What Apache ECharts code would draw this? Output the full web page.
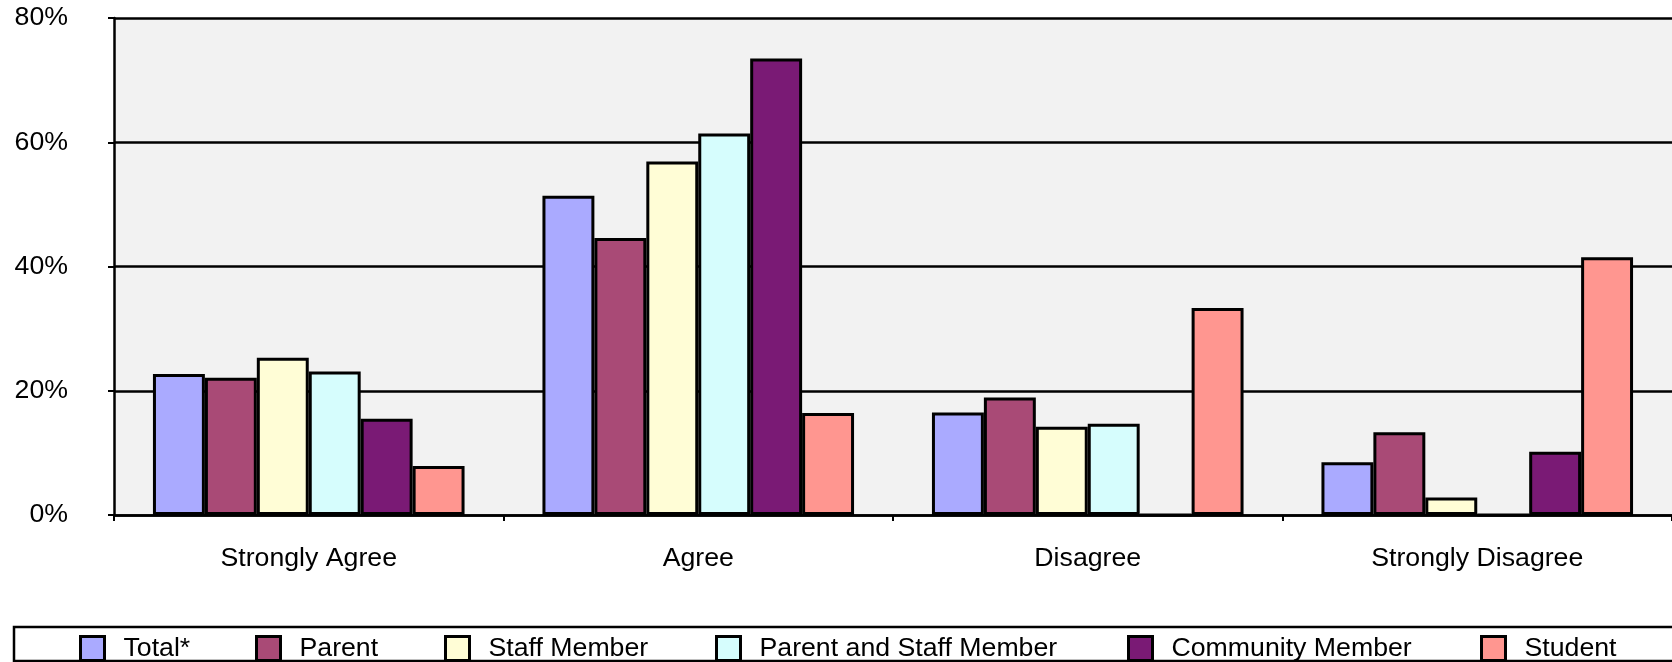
<!DOCTYPE html>
<html>
<head>
<meta charset="utf-8">
<script src="https://cdn.jsdelivr.net/npm/echarts@6/dist/echarts.min.js"></script>
<style>
html,body{margin:0;padding:0;background:#fff;}
#chart{width:1672px;height:662px;}
</style>
</head>
<body>
<div id="chart"></div>
<script>
const categories = ['Strongly Agree', 'Agree', 'Disagree', 'Strongly Disagree'];
const seriesNames = ['Total*', 'Parent', 'Staff Member', 'Parent and Staff Member', 'Community Member', 'Student'];
const totalValues = [22.7, 51.4, 16.5, 8.5];
const parentValues = [22.1, 44.6, 18.9, 13.3];
const staffValues = [25.3, 56.9, 14.2, 2.8];
const parentStaffValues = [23.1, 61.4, 14.7, 0];
const communityValues = [15.5, 73.5, 0, 10.2];
const studentValues = [7.9, 16.4, 33.3, 41.5];
const yTicks = [0, 20, 40, 60, 80];

const colors = ['#AAAAFF', '#A94A76', '#FFFDD6', '#D6FDFD', '#7A1A75', '#FF9690'];
const allValues = [totalValues, parentValues, staffValues, parentStaffValues, communityValues, studentValues];
const legendLefts = [79, 255, 444, 715, 1127, 1480];

const FONT = '"Liberation Sans", Arial, Helvetica, sans-serif';
const FS = 26.7;

const chart = echarts.init(document.getElementById('chart'), null, {renderer: 'canvas'});

const series = seriesNames.map((name, i) => ({
  name: name,
  type: 'bar',
  data: allValues[i],
  barGap: '0%',
  barCategoryGap: '20%',
  itemStyle: { color: colors[i], borderColor: '#000', borderWidth: 3 },
  emphasis: { disabled: true },
  z: 3
}));

const legends = seriesNames.map((name, i) => ({
  data: [name],
  icon: 'rect',
  left: legendLefts[i],
  top: 635,
  padding: 0,
  itemWidth: 24,
  itemHeight: 24,
  itemStyle: { borderColor: '#000', borderWidth: 3 },
  textStyle: { fontFamily: FONT, fontSize: FS, color: '#000', padding: [0, 0, 0, 14] },
  selectedMode: false,
  z: 10
}));

chart.setOption({
  animation: false,
  backgroundColor: '#fff',
  graphic: [{
    type: 'rect',
    shape: { x: 14, y: 627, width: 1700, height: 34 },
    style: { fill: '#fff', stroke: '#000', lineWidth: 2.5 },
    z: 0
  }],
  legend: legends,
  grid: {
    left: 114, right: -10, top: 18, bottom: 147,
    show: true, backgroundColor: '#F2F2F2', borderWidth: 0
  },
  xAxis: {
    type: 'category',
    data: categories,
    axisLine: { show: true, lineStyle: { color: '#000', width: 2.5 } },
    axisTick: { show: true, length: 6, interval: 0, lineStyle: { color: '#000', width: 2 } },
    axisLabel: { interval: 0, margin: 30, fontFamily: FONT, fontSize: FS, color: '#000' }
  },
  yAxis: {
    type: 'value',
    min: yTicks[0],
    max: yTicks[yTicks.length - 1],
    interval: yTicks[1] - yTicks[0],
    axisLine: { show: true, lineStyle: { color: '#000', width: 2.5 } },
    axisTick: { show: true, length: 6, lineStyle: { color: '#000', width: 2 } },
    splitLine: { show: true, lineStyle: { color: '#000', width: 2.5 } },
    axisLabel: { margin: 46, fontFamily: FONT, fontSize: FS, color: '#000', formatter: v => v + '%' }
  },
  series: series
});
</script>
</body>
</html>
